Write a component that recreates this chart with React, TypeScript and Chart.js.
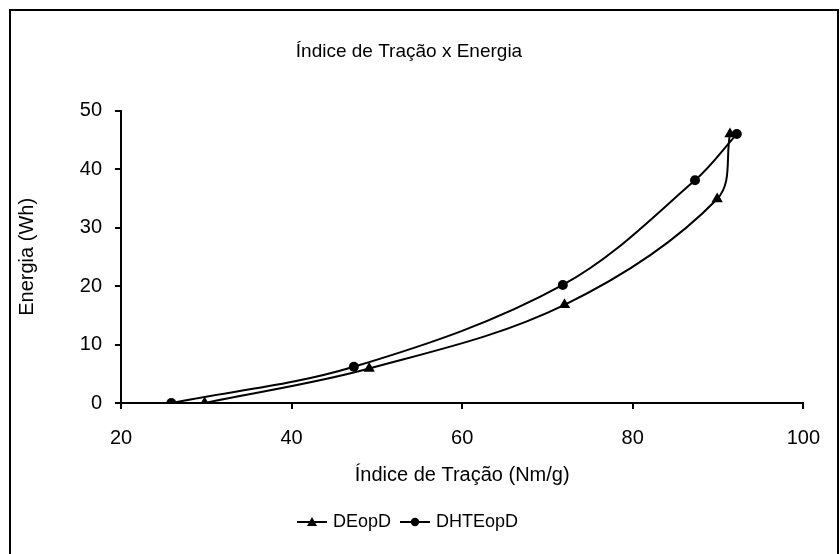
import React, { useEffect, useRef } from "react";
import { Chart, registerables } from "chart.js";

Chart.register(...registerables);

const TITLE = "Índice de Tração x Energia";
const X_TITLE = "Índice de Tração (Nm/g)";
const Y_TITLE = "Energia (Wh)";

const SERIES_NAMES = ["DEopD", "DHTEopD"];
const X_DEOPD = [29.8, 49.1, 72.0, 89.9, 91.4];
const Y_DEOPD = [0, 5.9, 16.8, 34.9, 46.0];
const X_DHTEOPD = [25.9, 47.3, 71.8, 87.3, 92.2];
const Y_DHTEOPD = [0, 6.2, 20.2, 38.1, 46.0];

const X_MIN = 20, X_MAX = 100, X_STEP = 20;
const Y_MIN = 0, Y_MAX = 50, Y_STEP = 10;

const FONT = "'Liberation Sans', Arial, sans-serif";

function legendIcon(kind: "triangle" | "circle"): HTMLCanvasElement {
  const c = document.createElement("canvas");
  c.width = 30;
  c.height = 14;
  const g = c.getContext("2d")!;
  g.strokeStyle = "#000";
  g.lineWidth = 2;
  g.beginPath();
  g.moveTo(0, 7);
  g.lineTo(30, 7);
  g.stroke();
  g.fillStyle = "#000";
  g.beginPath();
  if (kind === "triangle") {
    g.moveTo(15, 2);
    g.lineTo(20, 11);
    g.lineTo(10, 11);
    g.closePath();
  } else {
    g.arc(15, 7, 4.2, 0, Math.PI * 2);
  }
  g.fill();
  return c;
}

export default function App() {
  const ref = useRef<HTMLCanvasElement | null>(null);

  useEffect(() => {
    if (!ref.current) return;
    const d1 = X_DEOPD.map((x, i) => ({ x, y: Y_DEOPD[i] }));
    const d2 = X_DHTEOPD.map((x, i) => ({ x, y: Y_DHTEOPD[i] }));
    const icons = [legendIcon("triangle"), legendIcon("circle")];

    const chart = new Chart(ref.current, {
      type: "scatter",
      data: {
        datasets: [
          {
            label: SERIES_NAMES[0],
            data: d1,
            showLine: true,
            borderColor: "#000",
            backgroundColor: "#000",
            borderWidth: 2,
            pointStyle: "triangle",
            pointRadius: 6.5,
            pointBorderWidth: 0,
            tension: 0.35,
          },
          {
            label: SERIES_NAMES[1],
            data: d2,
            showLine: true,
            borderColor: "#000",
            backgroundColor: "#000",
            borderWidth: 2,
            pointStyle: "circle",
            pointRadius: 5,
            pointBorderWidth: 0,
            tension: 0.35,
          },
        ],
      },
      options: {
        animation: false,
        responsive: false,
        devicePixelRatio: 1,
        layout: { padding: { left: 0, right: 30, top: 0, bottom: 13 } },
        plugins: {
          tooltip: { enabled: false },
          title: {
            display: true,
            text: TITLE,
            color: "#000",
            font: { family: FONT, size: 19, weight: "normal" },
            padding: { top: 29.6, bottom: 47.3 },
          },
          legend: {
            display: true,
            position: "bottom",
            labels: {
              usePointStyle: true,
              pointStyleWidth: 24,
              color: "#000",
              padding: 12,
              font: { family: FONT, size: 18 },
              generateLabels: (ch: any) =>
                ch.data.datasets.map((ds: any, i: number) => ({
                  text: ds.label,
                  pointStyle: icons[i],
                  fillStyle: "#000",
                  strokeStyle: "#000",
                  lineWidth: 0,
                  fontColor: "#000",
                  hidden: false,
                  datasetIndex: i,
                })),
            },
          },
        },
        scales: {
          x: {
            type: "linear",
            min: X_MIN,
            max: X_MAX,
            afterFit: (s: any) => {
              s.height = 98;
            },
            ticks: {
              stepSize: X_STEP,
              color: "#000",
              padding: 17,
              font: { family: FONT, size: 20 },
              maxRotation: 0,
            },
            grid: {
              display: true,
              drawOnChartArea: false,
              drawTicks: true,
              tickLength: 6,
              color: "#000",
              lineWidth: 2,
            },
            border: { display: true, color: "#000", width: 2 },
            title: {
              display: true,
              text: X_TITLE,
              color: "#000",
              font: { family: FONT, size: 20 },
              padding: { top: 0, bottom: 13.5 },
            },
          },
          y: {
            type: "linear",
            min: Y_MIN,
            max: Y_MAX,
            afterFit: (s: any) => {
              s.width = 110;
            },
            ticks: {
              stepSize: Y_STEP,
              color: "#000",
              padding: 13,
              font: { family: FONT, size: 20 },
            },
            grid: {
              display: true,
              drawOnChartArea: false,
              drawTicks: true,
              tickLength: 6,
              color: "#000",
              lineWidth: 2,
            },
            border: { display: true, color: "#000", width: 2 },
            title: {
              display: true,
              text: Y_TITLE,
              color: "#000",
              font: { family: FONT, size: 20 },
              padding: { top: 4, bottom: 0 },
            },
          },
        },
      },
    } as any);
    return () => chart.destroy();
  }, []);

  return (
    <div
      style={{
        position: "fixed",
        left: 9,
        top: 9,
        width: 830,
        height: 560,
        boxSizing: "border-box",
        border: "2px solid #000",
        background: "#fff",
      }}
    >
      <canvas ref={ref} width={826} height={543} style={{ display: "block" }} />
    </div>
  );
}
